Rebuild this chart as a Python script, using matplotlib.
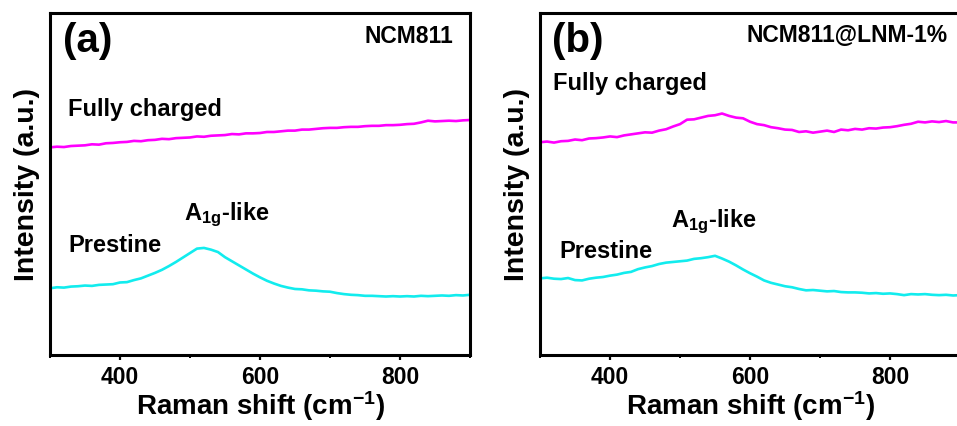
import matplotlib
matplotlib.use('Agg')
import matplotlib.pyplot as plt
from matplotlib.ticker import MultipleLocator

# fonts: Arial-like bold everywhere, math text too
plt.rcParams['font.family'] = ['Liberation Sans', 'DejaVu Sans']
plt.rcParams['font.weight'] = 'bold'
plt.rcParams['mathtext.fontset'] = 'custom'
plt.rcParams['mathtext.rm'] = 'Liberation Sans:bold'
plt.rcParams['mathtext.it'] = 'Liberation Sans:bold'
plt.rcParams['mathtext.bf'] = 'Liberation Sans:bold'
plt.rcParams['mathtext.default'] = 'rm'

# ---- data (arbitrary intensity units) ----
# Raman shift 300..900 cm-1, one reading every 10 cm-1
raman_shift = [300, 310, 320, 330, 340, 350, 360, 370, 380, 390,
               400, 410, 420, 430, 440, 450, 460, 470, 480, 490,
               500, 510, 520, 530, 540, 550, 560, 570, 580, 590,
               600, 610, 620, 630, 640, 650, 660, 670, 680, 690,
               700, 710, 720, 730, 740, 750, 760, 770, 780, 790,
               800, 810, 820, 830, 840, 850, 860, 870, 880, 890, 900]

charged_a = [60.7, 60.9, 60.8, 61.1, 61.2, 61.3, 61.6, 61.5, 61.9, 62.0,
             62.2, 62.3, 62.6, 62.5, 62.8, 62.9, 63.2, 63.1, 63.4, 63.5,
             63.6, 63.9, 63.8, 64.1, 64.2, 64.3, 64.6, 64.5, 64.8, 64.8,
             64.9, 65.2, 65.2, 65.4, 65.6, 65.6, 65.9, 65.9, 66.1, 66.3,
             66.4, 66.4, 66.6, 66.7, 66.7, 66.9, 67.0, 67.0, 67.2, 67.2,
             67.3, 67.5, 67.6, 68.0, 68.5, 68.3, 68.4, 68.5, 68.4, 68.6, 68.7]
pristine_a = [19.5, 19.8, 19.7, 20.0, 20.1, 20.3, 20.2, 20.5, 20.6, 20.7,
              21.2, 21.3, 21.9, 22.4, 23.2, 24.0, 24.9, 26.0, 27.2, 28.5,
              29.8, 31.1, 31.3, 30.8, 30.1, 28.6, 27.4, 26.2, 25.0, 23.8,
              22.7, 21.7, 20.9, 20.2, 19.7, 19.3, 19.2, 18.9, 18.8, 18.6,
              18.5, 18.1, 17.8, 17.6, 17.5, 17.3, 17.3, 17.2, 17.1, 17.2,
              17.1, 17.2, 17.1, 17.3, 17.2, 17.3, 17.4, 17.3, 17.5, 17.4, 17.6]

charged_b = [62.2, 62.4, 62.1, 62.5, 62.6, 63.0, 62.8, 63.3, 63.4, 63.6,
             63.9, 63.7, 64.2, 64.5, 64.8, 65.1, 65.0, 65.6, 66.0, 66.8,
             67.5, 68.8, 68.9, 69.4, 69.9, 70.1, 70.6, 69.9, 69.4, 69.2,
             68.2, 67.5, 67.2, 66.6, 66.3, 65.9, 65.8, 65.2, 65.4, 65.0,
             65.3, 65.6, 65.2, 65.9, 65.7, 66.1, 65.9, 66.3, 66.2, 66.5,
             66.6, 66.9, 67.3, 67.6, 68.2, 68.0, 68.3, 68.1, 68.4, 68.0, 68.0]
pristine_b = [22.4, 22.6, 22.3, 22.2, 22.5, 21.9, 21.8, 22.3, 22.6, 22.8,
              23.2, 23.5, 24.0, 24.3, 25.1, 25.6, 26.0, 26.6, 27.0, 27.2,
              27.4, 27.6, 28.1, 28.3, 28.6, 29.0, 28.2, 27.3, 26.2, 25.0,
              23.9, 22.9, 21.8, 21.1, 20.6, 20.1, 19.8, 19.3, 18.9, 19.0,
              18.8, 18.6, 18.7, 18.4, 18.3, 18.3, 18.2, 18.0, 18.1, 17.9,
              18.0, 17.8, 17.5, 17.8, 17.7, 17.8, 17.6, 17.5, 17.6, 17.4, 17.5]

panels = [
    ('(a)', 'NCM811', charged_a, pristine_a),
    ('(b)', 'NCM811@LNM-1%', charged_b, pristine_b),
]

magenta = '#FF00FF'
cyan = '#12ECEE'

fig = plt.figure(figsize=(9.57, 4.27), dpi=100)
ax_a = fig.add_axes([0.0522, 0.1663, 0.4389, 0.801])
ax_b = fig.add_axes([0.5643, 0.1663, 0.4389, 0.801])

# text positions in data coords (x, y)
label_pos = {
    '(a)': dict(tag=(319, 88.9), name=(876, 91.5), name_ha='right',
                charged=(326, 70.2), pristine=(327, 30.4), a1g=(491, 39.6)),
    '(b)': dict(tag=(316.7, 88.9), name=(595, 91.9), name_ha='left',
                charged=(318, 77.8), pristine=(327, 28.7), a1g=(486.7, 37.8)),
}

for ax, (tag, name, charged, pristine) in zip([ax_a, ax_b], panels):
    ax.plot(raman_shift, charged, color=magenta, lw=1.9)
    ax.plot(raman_shift, pristine, color=cyan, lw=1.9)
    ax.set_xlim(300, 900)
    ax.set_ylim(0, 100)

    pos = label_pos[tag]
    ax.text(*pos['tag'], tag, fontsize=29, fontweight='bold', va='baseline')
    ax.text(*pos['name'], name, fontsize=16.5, fontweight='bold',
            ha=pos['name_ha'], va='baseline')
    ax.text(*pos['charged'], 'Fully charged', fontsize=17, fontweight='bold', va='baseline')
    ax.text(*pos['pristine'], 'Prestine', fontsize=17, fontweight='bold', va='baseline')
    ax.text(*pos['a1g'], r'A$_{1g}$-like', fontsize=17, fontweight='bold', va='baseline')

    ax.xaxis.set_major_locator(MultipleLocator(200))
    ax.xaxis.set_minor_locator(MultipleLocator(100))
    ax.set_xticks([400, 600, 800])
    ax.tick_params(axis='x', which='major', direction='out', length=3.5, width=1.6,
                   labelsize=16.5, pad=3.5)
    ax.tick_params(axis='x', which='minor', direction='out', length=2, width=1.4)
    ax.set_yticks([])
    for lab in ax.get_xticklabels():
        lab.set_fontweight('bold')
    for sp in ax.spines.values():
        sp.set_linewidth(2.2)

    ax.set_xlabel(r'Raman shift (cm$^{-1}$)', fontsize=20, fontweight='bold', labelpad=0)
    ax.set_ylabel('Intensity (a.u.)', fontsize=20.5, fontweight='bold', labelpad=7)

fig.savefig('out.png', dpi=100)
